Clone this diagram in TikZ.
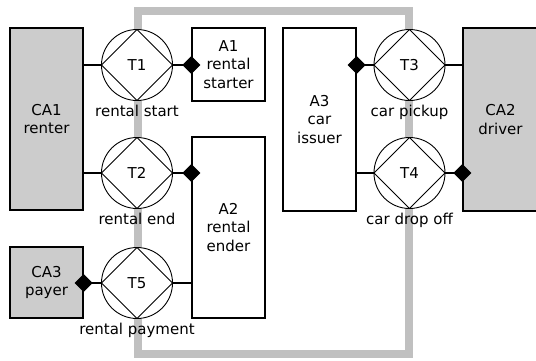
\documentclass[tikz,border=0pt]{standalone}
\usepackage{fontspec}
\setmainfont{DejaVu Sans}
\usetikzlibrary{positioning,arrows.meta}
\definecolor{actorgray}{HTML}{CCCCCC}
\definecolor{bordergray}{HTML}{C0C0C0}

\begin{document}
\begin{tikzpicture}[
    x=1pt, y=-1pt,
    every node/.style={font=\fontsize{15pt}{18.3pt}\selectfont},
    block/.style={draw, line width=1.3pt, align=center, inner sep=0pt, fill=#1},
    trans/.style={circle, draw, line width=0.9pt, fill=white, minimum size=71pt, inner sep=0pt,
        path picture={\draw[line width=0.9pt] (path picture bounding box.north) -- (path picture bounding box.east)
            -- (path picture bounding box.south) -- (path picture bounding box.west) -- cycle;}},
    link/.style={line width=1.1pt},
    owner/.style={line width=1.1pt, -{Diamond[length=18pt, width=18pt]}, shorten >=-9pt}
]
    \useasboundingbox (0,0) rectangle (536,360);

    % Boundary
    \draw[bordergray, line width=8pt] (137.5,11) rectangle (409,354);

    % Composite actors
    \node[block=actorgray, minimum width=73pt, minimum height=182pt] (ca1) at (46.5, 119) {CA1\\renter};
    \node[block=actorgray, minimum width=75pt, minimum height=183pt] (ca2) at (500.5, 119.5) {CA2\\driver};
    \node[block=actorgray, minimum width=73pt, minimum height=71pt] (ca3) at (46.5, 282.5) {CA3\\payer};

    % Elementary actors
    \node[block=white, minimum width=73pt, minimum height=73pt] (a1) at (228.5, 64.5) {A1\\rental\\starter};
    \node[block=white, minimum width=73pt, minimum height=181pt] (a2) at (228.5, 227.5) {A2\\rental\\ender};
    \node[block=white, minimum width=73pt, minimum height=183pt] (a3) at (319.5, 119.5) {A3\\car\\issuer};

    % Transactions
    \foreach \nm/\xx/\yy/\lbl in {1/137/65/rental start, 2/137/173/rental end, 5/137/283/rental payment,
                                  3/409.5/65/car pickup, 4/409.5/173/car drop off} {
        \node[trans, label={[label distance=0pt, inner sep=3.5pt]below:\lbl}] (t\nm) at (\xx, \yy) {T\nm};
    }

    % Links
    \draw[link] (ca1.east |- t1) -- (t1.west);
    \draw[owner] (t1.east) -- (a1.west |- t1);
    \draw[link] (ca1.east |- t2) -- (t2.west);
    \draw[owner] (t2.east) -- (a2.west |- t2);
    \draw[owner] (t5.west) -- (ca3.east |- t5);
    \draw[link] (t5.east) -- (a2.west |- t5);
    \draw[owner] (t3.west) -- (a3.east |- t3);
    \draw[link] (t3.east) -- (ca2.west |- t3);
    \draw[link] (a3.east |- t4) -- (t4.west);
    \draw[owner] (t4.east) -- (ca2.west |- t4);
\end{tikzpicture}
\end{document}
